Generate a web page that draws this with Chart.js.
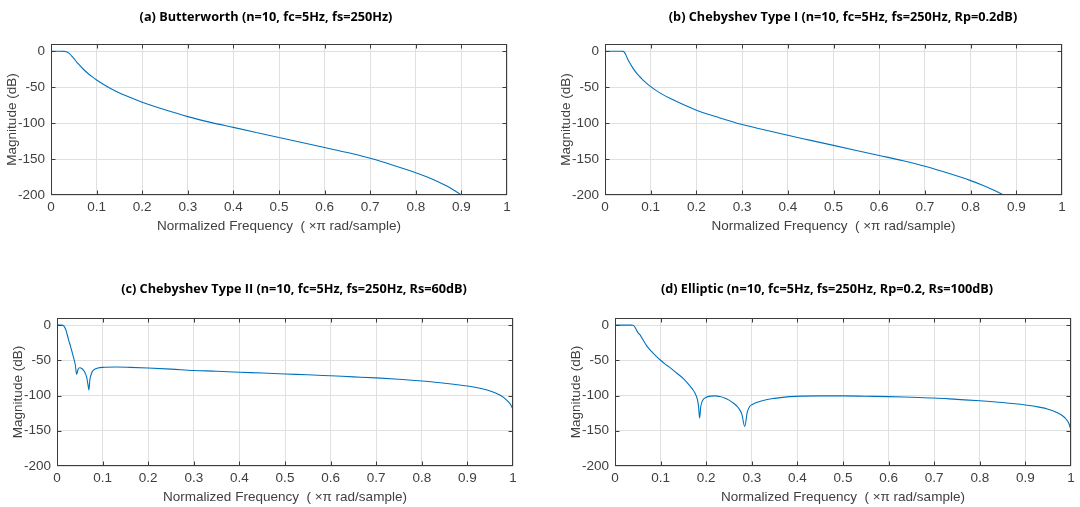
<!DOCTYPE html>
<html>
<head>
<meta charset="utf-8">
<script src="https://cdn.jsdelivr.net/npm/chart.js@4.4.0/dist/chart.umd.min.js"></script>
<style>
  body { margin: 0; background: #fff; width: 1080px; height: 507px; overflow: hidden; position: relative; }
  canvas { position: absolute; }
</style>
</head>
<body>
<canvas id="chartA"></canvas>
<canvas id="chartB"></canvas>
<canvas id="chartC"></canvas>
<canvas id="chartD"></canvas>
<script>
// tick labels
const xTicks = [0, 0.1, 0.2, 0.3, 0.4, 0.5, 0.6, 0.7, 0.8, 0.9, 1];
const yTicks = [-200, -150, -100, -50, 0];

// (a) Butterworth
const freqButter = [0, 0.01, 0.02, 0.03, 0.035, 0.04, 0.045, 0.05, 0.055, 0.06, 0.07, 0.08, 0.09, 0.1, 0.12, 0.14, 0.17, 0.2, 0.25, 0.3, 0.35, 0.4, 0.45, 0.5, 0.55, 0.6, 0.65, 0.7, 0.75, 0.8, 0.825, 0.85, 0.875, 0.9];
const magButter = [0, 0, 0, -0.3, -1, -3, -6.5, -10, -14, -17.8, -24.4, -30.3, -35.4, -40, -48, -55, -63.5, -71, -81.5, -91, -99, -106, -113, -120, -127, -134, -141, -149, -158.5, -169, -175, -182, -190, -200];

// (b) Chebyshev Type I
const freqCheby1 = [0, 0.01, 0.02, 0.03, 0.035, 0.04, 0.045, 0.05, 0.055, 0.06, 0.07, 0.08, 0.09, 0.1, 0.12, 0.15, 0.2, 0.25, 0.3, 0.35, 0.4, 0.45, 0.5, 0.55, 0.6, 0.65, 0.7, 0.75, 0.8, 0.825, 0.85, 0.872];
const magCheby1 = [0, -0.05, -0.15, -0.05, -0.1, -0.2, -4.2, -11.4, -17.2, -22.5, -31.3, -38, -44, -49.3, -58, -68, -82, -92.5, -102, -109.5, -117, -124, -131, -138, -145, -152, -160, -169.5, -180, -186, -193, -200];

// (c) Chebyshev Type II
const freqCheby2 = [0, 0.005, 0.01, 0.015, 0.02, 0.025, 0.03, 0.035, 0.04, 0.043, 0.046, 0.05, 0.055, 0.06, 0.065, 0.068, 0.07, 0.072, 0.076, 0.08, 0.09, 0.1, 0.13, 0.16, 0.2, 0.25, 0.3, 0.35, 0.4, 0.45, 0.5, 0.55, 0.6, 0.65, 0.7, 0.75, 0.8, 0.85, 0.9, 0.93, 0.95, 0.97, 0.98, 0.99, 0.995, 1];
const magCheby2 = [0, 0, -0.05, -1.2, -8, -20, -31, -43, -56, -70, -63, -60.5, -62, -66, -74, -85, -92, -78, -68, -64, -61, -60, -59.5, -60, -61, -62.5, -64.5, -65.5, -67, -68, -69.5, -70.5, -72, -73.5, -75, -77, -79.5, -82.5, -86.5, -90, -93.5, -99, -103, -109, -113, -120];

// (d) Elliptic
const freqEllip = [0, 0.01, 0.02, 0.03, 0.035, 0.04, 0.045, 0.05, 0.055, 0.06, 0.07, 0.08, 0.09, 0.1, 0.11, 0.12, 0.135, 0.15, 0.16, 0.17, 0.175, 0.18, 0.183, 0.1855, 0.188, 0.192, 0.2, 0.21, 0.22, 0.23, 0.24, 0.25, 0.26, 0.27, 0.278, 0.2845, 0.29, 0.295, 0.3, 0.325, 0.35, 0.383, 0.45, 0.5, 0.55, 0.6, 0.65, 0.7, 0.75, 0.8, 0.85, 0.9, 0.93, 0.95, 0.97, 0.98, 0.99, 0.995, 1];
const magEllip = [0, -0.1, -0.05, -0.15, -0.05, -0.2, -4.5, -10.5, -14, -19.5, -30, -37.5, -44, -50, -55.5, -60, -68, -76, -83, -91, -96, -104, -114, -132, -116, -107, -102.5, -100.8, -100.5, -101.5, -103.5, -106.5, -111, -117, -126, -144, -124, -116, -113, -107, -104, -101.5, -100.5, -100.5, -101, -101.5, -102.5, -103.5, -105.5, -107.5, -110, -113.5, -116.5, -119.5, -124.5, -128, -134, -139, -149];

const lineColor = '#0072BD';
const textColor = '#404040';
const tickFont = { family: '"Liberation Sans", Arial, sans-serif', size: 13.5 };

// MATLAB style box with inward ticks, plus the bold title
const matlabAxes = {
  id: 'matlabAxes',
  afterDraw(chart, args, opts) {
    const ctx = chart.ctx;
    const a = chart.chartArea;
    const L = Math.round(a.left) + 0.5, R = Math.round(a.right) - 0.5;
    const T = Math.round(a.top) + 0.5, B = Math.round(a.bottom) - 0.5;
    ctx.save();
    ctx.strokeStyle = '#3c3c3c';
    ctx.lineWidth = 1;
    ctx.strokeRect(L, T, R - L, B - T);
    ctx.beginPath();
    xTicks.forEach(v => {
      let px = Math.round(chart.scales.x.getPixelForValue(v)) + 0.5;
      if (px > R) px = R;
      ctx.moveTo(px, T); ctx.lineTo(px, T + 4);
      ctx.moveTo(px, B); ctx.lineTo(px, B - 4);
    });
    yTicks.forEach(v => {
      let py = Math.round(chart.scales.y.getPixelForValue(v)) + 0.5;
      if (py > B) py = B;
      ctx.moveTo(L, py); ctx.lineTo(L + 4, py);
      ctx.moveTo(R, py); ctx.lineTo(R - 4, py);
    });
    ctx.stroke();
    ctx.font = 'bold 12.7px "Open Sans", sans-serif';
    ctx.fillStyle = '#000';
    ctx.textAlign = 'center';
    ctx.textBaseline = 'middle';
    ctx.fillText(opts.text, opts.x, opts.y);
    ctx.restore();
  }
};

function makeChart(id, freq, mag, cfg) {
  const canvas = document.getElementById(id);
  canvas.width = cfg.w;
  canvas.height = cfg.h;
  canvas.style.left = cfg.left + 'px';
  canvas.style.top = cfg.top + 'px';
  canvas.style.width = cfg.w + 'px';
  canvas.style.height = cfg.h + 'px';

  return new Chart(canvas, {
    type: 'line',
    data: {
      datasets: [{
        data: freq.map((f, i) => ({ x: f, y: mag[i] })),
        borderColor: lineColor,
        borderWidth: 1.1,
        pointRadius: 0,
        cubicInterpolationMode: 'monotone',
        fill: false
      }]
    },
    plugins: [matlabAxes],
    options: {
      responsive: false,
      animation: false,
      events: [],
      layout: { padding: { top: cfg.padTop, right: cfg.padRight, left: 0, bottom: 0 } },
      plugins: {
        legend: { display: false },
        tooltip: { enabled: false },
        matlabAxes: { text: cfg.title, x: cfg.titleX, y: cfg.titleY }
      },
      scales: {
        x: {
          type: 'linear',
          min: 0,
          max: 1,
          afterBuildTicks: s => { s.ticks = xTicks.map(v => ({ value: v })); },
          afterFit: s => { s.height = cfg.xHeight; },
          grid: { color: '#e0e0e0', drawTicks: false },
          border: { display: false },
          ticks: {
            padding: 4, color: textColor, font: tickFont, maxRotation: 0, autoSkip: false,
            callback: v => String(Math.round(v * 10) / 10)
          },
          title: {
            display: true,
            text: 'Normalized Frequency  ( \u00d7\u03c0 rad/sample)',
            color: textColor, font: tickFont,
            padding: { top: 0, bottom: cfg.xTitlePad }
          }
        },
        y: {
          min: -200,
          max: 10,
          afterBuildTicks: s => { s.ticks = yTicks.map(v => ({ value: v })); },
          afterFit: s => { s.width = 51; },
          grid: { color: '#e0e0e0', drawTicks: false },
          border: { display: false },
          ticks: { padding: 6, color: textColor, font: tickFont },
          title: {
            display: true,
            text: 'Magnitude (dB)',
            color: textColor, font: tickFont,
            padding: { top: 4, bottom: 0 }
          }
        }
      }
    }
  });
}

makeChart('chartA', freqButter, magButter, {
  left: 0, top: 0, w: 540, h: 240, padTop: 44, padRight: 33, xHeight: 45, xTitlePad: 6,
  title: '(a) Butterworth (n=10, fc=5Hz, fs=250Hz)', titleX: 266, titleY: 17
});
makeChart('chartB', freqCheby1, magCheby1, {
  left: 554, top: 0, w: 526, h: 240, padTop: 44, padRight: 18, xHeight: 45, xTitlePad: 6,
  title: '(b) Chebyshev Type I (n=10, fc=5Hz, fs=250Hz, Rp=0.2dB)', titleX: 289, titleY: 17
});
makeChart('chartC', freqCheby2, magCheby2, {
  left: 6, top: 270, w: 534, h: 237, padTop: 48, padRight: 27, xHeight: 41, xTitlePad: 2,
  title: '(c) Chebyshev Type II (n=10, fc=5Hz, fs=250Hz, Rs=60dB)', titleX: 288, titleY: 19
});
makeChart('chartD', freqEllip, magEllip, {
  left: 564, top: 270, w: 516, h: 237, padTop: 48, padRight: 9, xHeight: 41, xTitlePad: 2,
  title: '(d) Elliptic (n=10, fc=5Hz, fs=250Hz, Rp=0.2, Rs=100dB)', titleX: 263, titleY: 19
});
</script>
</body>
</html>
